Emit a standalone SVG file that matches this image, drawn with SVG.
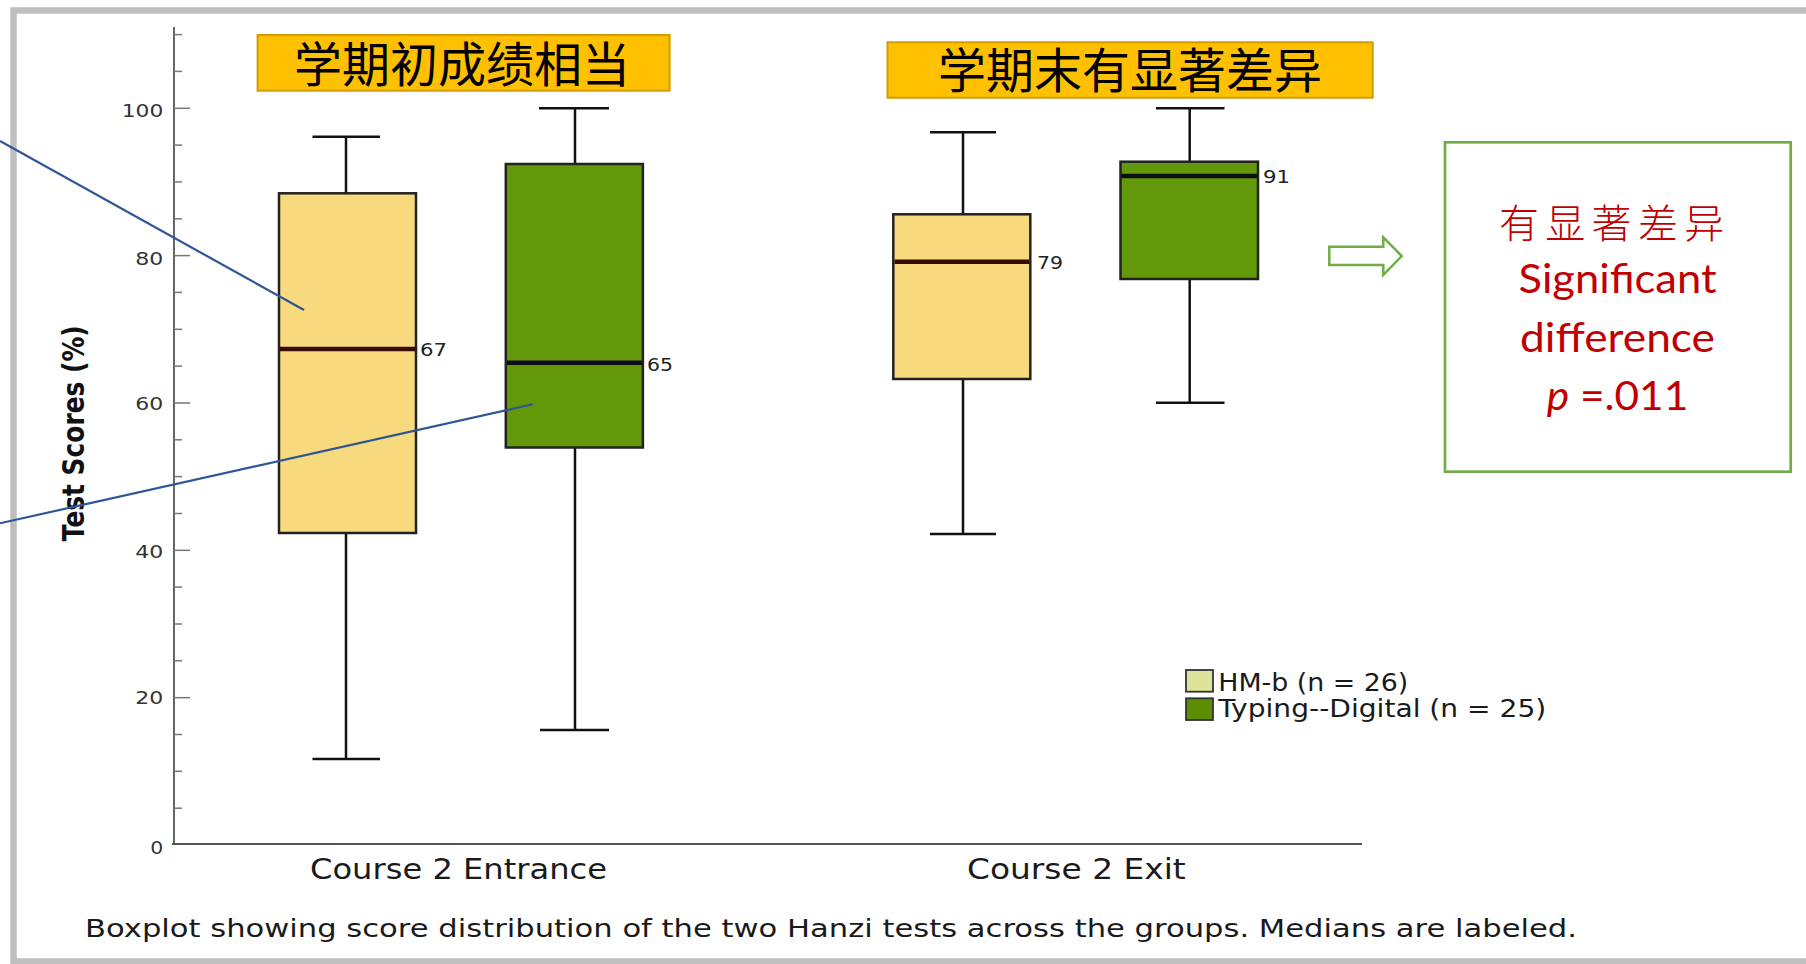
<svg xmlns="http://www.w3.org/2000/svg" width="1806" height="964" viewBox="0 0 1806 964">
<defs>
<style>
.frame{fill:#ffffff;stroke:#bfbfbf;stroke-width:6.5}
.axis{stroke:#555;stroke-width:1.8;fill:none}
.tick{stroke:#777;stroke-width:1.5}
.tl{font-family:"DejaVu Sans",sans-serif;font-size:18px;fill:#333}
.ylab{font-family:"DejaVu Sans",sans-serif;font-size:24.5px;font-weight:bold;fill:#111}
.xlab{font-family:"DejaVu Sans",sans-serif;font-size:29px;fill:#1a1a1a}
.cap{font-family:"DejaVu Sans",sans-serif;font-size:24px;fill:#1a1a1a}
.leg{font-family:"DejaVu Sans",sans-serif;font-size:24px;fill:#1a1a1a}
.ml{font-family:"DejaVu Sans",sans-serif;font-size:18px;fill:#222}
.bY{fill:#f6da7d;stroke:#222;stroke-width:2.5}
.bG{fill:#62980a;stroke:#222;stroke-width:2.5}
.wh{stroke:#111;stroke-width:2.5;fill:none}
.medY{stroke:#3a0a00;stroke-width:4.5}
.medG{stroke:#0d0d0d;stroke-width:4.5}
.tbox{fill:#ffc000;stroke:#d49b00;stroke-width:2}
.ttext{font-family:"Noto Sans CJK SC",sans-serif;font-size:48px;fill:#000}
.ann{stroke:#2f5597;stroke-width:2.2;fill:none}
.res{font-family:Lato,"Liberation Sans",sans-serif;font-size:40px;fill:#c00000}
.resc{font-family:"Noto Sans CJK SC",sans-serif;font-size:40px;font-weight:300;fill:#c00000}
</style>
</defs>
<rect x="0" y="0" width="1806" height="964" fill="#ffffff"/>
<rect class="frame" x="13.5" y="10.5" width="1820" height="951"/>

<g id="y-axis">
<line class="axis" x1="174" y1="27" x2="174" y2="845"/>
<g class="tick">
<line x1="174" y1="34.6" x2="182" y2="34.6"/>
<line x1="174" y1="71.4" x2="182" y2="71.4"/>
<line x1="174" y1="108.3" x2="190" y2="108.3"/>
<line x1="174" y1="145.1" x2="182" y2="145.1"/>
<line x1="174" y1="181.9" x2="182" y2="181.9"/>
<line x1="174" y1="218.8" x2="182" y2="218.8"/>
<line x1="174" y1="255.6" x2="190" y2="255.6"/>
<line x1="174" y1="292.4" x2="182" y2="292.4"/>
<line x1="174" y1="329.3" x2="182" y2="329.3"/>
<line x1="174" y1="366.1" x2="182" y2="366.1"/>
<line x1="174" y1="403" x2="190" y2="403"/>
<line x1="174" y1="439.8" x2="182" y2="439.8"/>
<line x1="174" y1="476.6" x2="182" y2="476.6"/>
<line x1="174" y1="513.5" x2="182" y2="513.5"/>
<line x1="174" y1="550.3" x2="190" y2="550.3"/>
<line x1="174" y1="587.1" x2="182" y2="587.1"/>
<line x1="174" y1="624" x2="182" y2="624"/>
<line x1="174" y1="660.8" x2="182" y2="660.8"/>
<line x1="174" y1="697.7" x2="190" y2="697.7"/>
<line x1="174" y1="734.5" x2="182" y2="734.5"/>
<line x1="174" y1="771.3" x2="182" y2="771.3"/>
<line x1="174" y1="808.2" x2="182" y2="808.2"/>
</g>
<g class="tl" text-anchor="end">
<text x="163.3" y="116.5" textLength="41.6" lengthAdjust="spacingAndGlyphs">100</text>
<text x="163.3" y="264.5" textLength="28" lengthAdjust="spacingAndGlyphs">80</text>
<text x="163.3" y="410" textLength="28" lengthAdjust="spacingAndGlyphs">60</text>
<text x="163.3" y="558" textLength="28" lengthAdjust="spacingAndGlyphs">40</text>
<text x="163.3" y="704" textLength="28" lengthAdjust="spacingAndGlyphs">20</text>
<text x="163.3" y="853.5" textLength="13" lengthAdjust="spacingAndGlyphs">0</text>
</g>
<text class="ylab" text-anchor="middle" transform="translate(83.5,433.3) scale(1.2,1) rotate(-90)" x="0" y="0" textLength="216" lengthAdjust="spacingAndGlyphs">Test Scores (%)</text>
</g>

<g id="x-axis">
<line class="axis" x1="172" y1="844" x2="1362" y2="844" stroke="#666"/>
<text class="xlab" x="310" y="879.3" textLength="297" lengthAdjust="spacingAndGlyphs">Course 2 Entrance</text>
<text class="xlab" x="967" y="879.3" textLength="218.7" lengthAdjust="spacingAndGlyphs">Course 2 Exit</text>
</g>

<g id="caption">
<text class="cap" x="85" y="936.7" textLength="1492" lengthAdjust="spacingAndGlyphs">Boxplot showing score distribution of the two Hanzi tests across the groups. Medians are labeled.</text>
</g>

<g id="title-entrance">
<rect class="tbox" x="257.6" y="35" width="412" height="55.7"/>
<text class="ttext" x="462" y="81.5" text-anchor="middle">学期初成绩相当</text>
</g>
<g id="title-exit">
<rect class="tbox" x="887.5" y="42.3" width="485.2" height="55.4"/>
<text class="ttext" x="1130" y="88" text-anchor="middle">学期末有显著差异</text>
</g>

<g id="box-entrance-hmb">
<line class="wh" x1="346" y1="136.7" x2="346" y2="759"/>
<line class="wh" x1="312.5" y1="136.7" x2="380" y2="136.7"/>
<line class="wh" x1="312.5" y1="759" x2="380" y2="759"/>
<rect class="bY" x="279" y="193.3" width="137" height="339.7"/>
<line class="medY" x1="280" y1="349" x2="415" y2="349"/>
<text class="ml" x="420" y="356" textLength="27" lengthAdjust="spacingAndGlyphs">67</text>
</g>

<g id="box-entrance-typing">
<line class="wh" x1="575" y1="108.3" x2="575" y2="730"/>
<line class="wh" x1="539" y1="108.3" x2="609" y2="108.3"/>
<line class="wh" x1="540" y1="730" x2="609" y2="730"/>
<rect class="bG" x="505.8" y="164" width="137.1" height="283.5"/>
<line class="medG" x1="507" y1="362.7" x2="642" y2="362.7"/>
<text class="ml" x="647" y="371" textLength="26" lengthAdjust="spacingAndGlyphs">65</text>
</g>

<g id="box-exit-hmb">
<line class="wh" x1="963" y1="132.3" x2="963" y2="534"/>
<line class="wh" x1="930" y1="132.3" x2="996" y2="132.3"/>
<line class="wh" x1="930" y1="534" x2="996" y2="534"/>
<rect class="bY" x="893.3" y="214.3" width="137" height="164.7"/>
<line class="medY" x1="894.5" y1="261.7" x2="1029" y2="261.7"/>
<text class="ml" x="1037" y="268.5" textLength="26" lengthAdjust="spacingAndGlyphs">79</text>
</g>

<g id="box-exit-typing">
<line class="wh" x1="1189.7" y1="108.3" x2="1189.7" y2="402.7"/>
<line class="wh" x1="1156" y1="108.3" x2="1224.5" y2="108.3"/>
<line class="wh" x1="1156" y1="402.7" x2="1224.5" y2="402.7"/>
<rect class="bG" x="1120.5" y="161.7" width="137.5" height="117.3"/>
<line class="medG" x1="1121.5" y1="176" x2="1257" y2="176"/>
<text class="ml" x="1263" y="182.5" textLength="27" lengthAdjust="spacingAndGlyphs">91</text>
</g>

<g id="legend">
<rect x="1186" y="670" width="27" height="21.7" fill="#dde39a" stroke="#333" stroke-width="1.8"/>
<rect x="1186" y="698.3" width="27" height="21.7" fill="#5c8c00" stroke="#333" stroke-width="1.8"/>
<text class="leg" x="1218.3" y="690.7" textLength="190" lengthAdjust="spacingAndGlyphs">HM-b (n = 26)</text>
<text class="leg" x="1218.3" y="717.3" textLength="328" lengthAdjust="spacingAndGlyphs">Typing--Digital (n = 25)</text>
</g>

<g id="result-box">
<rect x="1445" y="142.3" width="345.7" height="329.4" fill="#ffffff" stroke="#70ad47" stroke-width="2.7"/>
<text class="resc" x="1499" y="237.7" letter-spacing="6.3">有显著差异</text>
<text class="res" x="1617.5" y="293.3" text-anchor="middle" textLength="198" lengthAdjust="spacingAndGlyphs">Significant</text>
<text class="res" x="1617.5" y="351.7" text-anchor="middle" textLength="195" lengthAdjust="spacingAndGlyphs">difference</text>
<text class="res" x="1617.5" y="410" text-anchor="middle" textLength="141.6" lengthAdjust="spacingAndGlyphs"><tspan font-style="italic">p</tspan> =.011</text>
</g>

<g id="connectors">
<line class="ann" x1="0" y1="141" x2="304" y2="310"/>
<line class="ann" x1="0" y1="523.3" x2="532.6" y2="404.3"/>
<path d="M1329.3,246.7 H1383.3 V237.3 L1401.7,256 L1383.3,275 V265 H1329.3 Z" fill="#ffffff" stroke="#70ad47" stroke-width="2.5" stroke-linejoin="miter"/>
</g>
</svg>
